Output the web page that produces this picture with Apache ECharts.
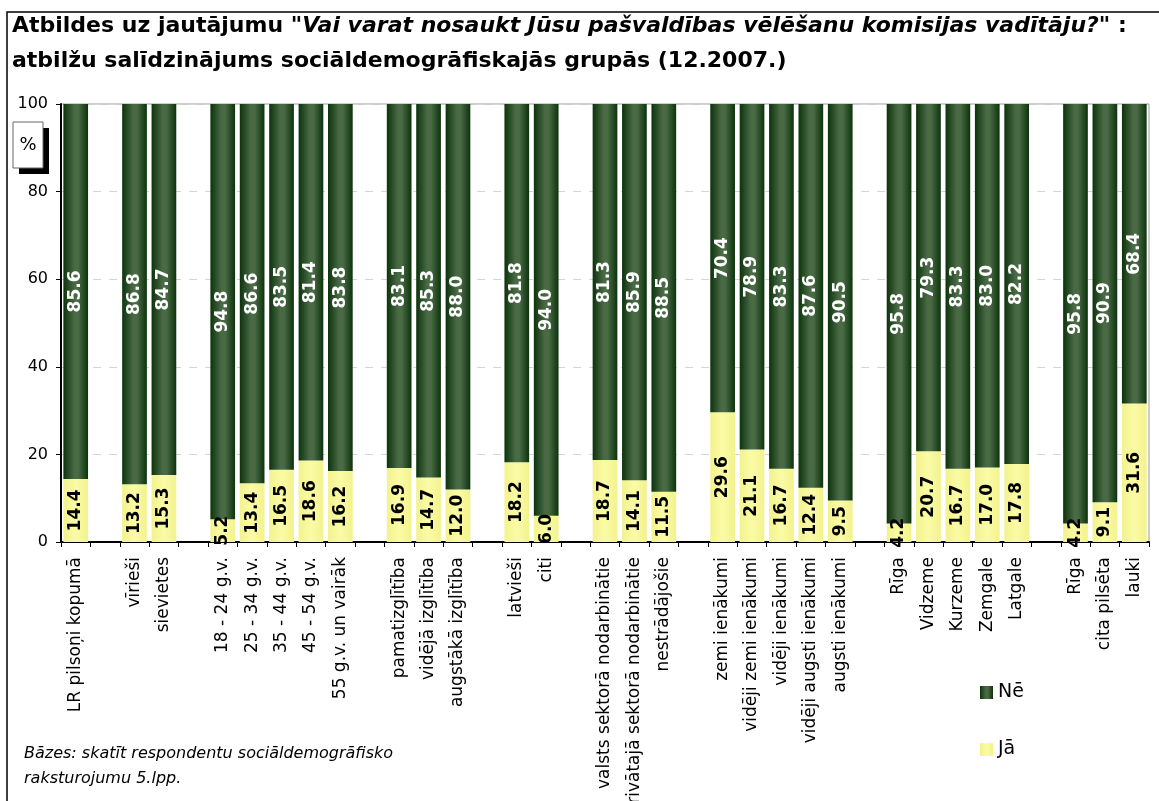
<!DOCTYPE html>
<html>
<head>
<meta charset="utf-8">
<script src="https://cdn.jsdelivr.net/npm/echarts@6/dist/echarts.min.js"></script>
<style>
  html, body { margin: 0; padding: 0; background: #fff; }
  #chart { width: 1159px; height: 801px; }
</style>
</head>
<body>
<div id="chart"></div>
<script>
// empty strings are the spacer columns between groups
const categories = [
  'LR pilsoņi kopumā', '',
  'vīrieši', 'sievietes', '',
  '18 - 24 g.v.', '25 - 34 g.v.', '35 - 44 g.v.', '45 - 54 g.v.', '55 g.v. un vairāk', '',
  'pamatizglītība', 'vidējā izglītība', 'augstākā izglītība', '',
  'latvieši', 'citi', '',
  'valsts sektorā nodarbinātie', 'privātajā sektorā nodarbinātie', 'nestrādājošie', '',
  'zemi ienākumi', 'vidēji zemi ienākumi', 'vidēji ienākumi', 'vidēji augsti ienākumi', 'augsti ienākumi', '',
  'Rīga', 'Vidzeme', 'Kurzeme', 'Zemgale', 'Latgale', '',
  'Rīga', 'cita pilsēta', 'lauki'
]
const jaValues = [
  14.4, null,
  13.2, 15.3, null,
  5.2, 13.4, 16.5, 18.6, 16.2, null,
  16.9, 14.7, 12.0, null,
  18.2, 6.0, null,
  18.7, 14.1, 11.5, null,
  29.6, 21.1, 16.7, 12.4, 9.5, null,
  4.2, 20.7, 16.7, 17.0, 17.8, null,
  4.2, 9.1, 31.6
]
const neValues = [
  85.6, null,
  86.8, 84.7, null,
  94.8, 86.6, 83.5, 81.4, 83.8, null,
  83.1, 85.3, 88.0, null,
  81.8, 94.0, null,
  81.3, 85.9, 88.5, null,
  70.4, 78.9, 83.3, 87.6, 90.5, null,
  95.8, 79.3, 83.3, 83.0, 82.2, null,
  95.8, 90.9, 68.4
]
const yTicks = [0, 20, 40, 60, 80, 100]

const FONT = 'DejaVu Sans'
const chart = echarts.init(document.getElementById('chart'))

const greenFill = new echarts.graphic.LinearGradient(0, 0, 1, 0, [
  { offset: 0, color: '#0c330c' },
  { offset: 0.45, color: '#496a45' },
  { offset: 0.6, color: '#496a45' },
  { offset: 1, color: '#0c330c' }
])
const yellowFill = new echarts.graphic.LinearGradient(0, 0, 1, 0, [
  { offset: 0, color: '#f2f28e' },
  { offset: 0.5, color: '#fbfba6' },
  { offset: 1, color: '#f2f28e' }
])

const fmt = p => (p.value == null ? '' : p.value.toFixed(1))

chart.setOption({
  animation: false,
  textStyle: { fontFamily: FONT },
  title: {
    left: 12,
    top: 9,
    padding: 0,
    text: '{b|Atbildes uz jautājumu }{i|"Vai varat nosaukt Jūsu pašvaldības vēlēšanu komisijas vadītāju?"}{b| :}\n{b|atbilžu salīdzinājums sociāldemogrāfiskajās grupās (12.2007.)}',
    textStyle: {
      rich: {
        b: { fontSize: 22, fontWeight: 'bold', color: '#000', lineHeight: 35, fontFamily: FONT },
        i: { fontSize: 22, fontWeight: 'bold', fontStyle: 'italic', color: '#000', lineHeight: 35, fontFamily: FONT }
      }
    }
  },
  legend: {
    orient: 'vertical',
    left: 980,
    top: 683,
    padding: 0,
    icon: 'rect',
    itemWidth: 13,
    itemHeight: 13,
    itemGap: 38,
    data: ['Nē', 'Jā'],
    textStyle: { fontSize: 19, color: '#000', fontFamily: FONT }
  },
  grid: {
    left: 61, right: 10, top: 104, bottom: 259,
    outerBoundsMode: 'none', containLabel: false,
    show: true, borderColor: '#999', borderWidth: 1
  },
  xAxis: {
    type: 'category',
    data: categories,
    axisLine: { lineStyle: { color: '#000', width: 2 } },
    axisTick: { show: true, length: 5, lineStyle: { color: '#000' } },
    axisLabel: { rotate: 90, interval: 0, fontSize: 17, color: '#000', margin: 15, fontFamily: FONT }
  },
  yAxis: {
    type: 'value',
    min: yTicks[0],
    max: yTicks[yTicks.length - 1],
    interval: 20,
    axisLine: { show: true, lineStyle: { color: '#000', width: 2 } },
    axisTick: { show: true, length: 5, lineStyle: { color: '#000' } },
    axisLabel: { fontSize: 16, color: '#000', margin: 13, fontFamily: FONT },
    splitLine: { lineStyle: { color: '#d4d4d4', type: [8, 8] } }
  },
  series: [
    {
      name: 'Jā',
      type: 'bar',
      stack: 'total',
      barWidth: '84%',
      data: jaValues,
      itemStyle: { color: yellowFill },
      label: {
        show: true, position: 'inside', rotate: 90, formatter: fmt,
        fontSize: 17, fontWeight: 'bold', color: '#000', fontFamily: FONT
      }
    },
    {
      name: 'Nē',
      type: 'bar',
      stack: 'total',
      barWidth: '84%',
      data: neValues,
      itemStyle: { color: greenFill },
      label: {
        show: true, position: 'inside', rotate: 90, formatter: fmt,
        fontSize: 17, fontWeight: 'bold', color: '#fff', fontFamily: FONT
      }
    }
  ],
  graphic: [
    { type: 'rect', shape: { x: 7, y: 12, width: 1170, height: 800 }, style: { fill: 'none', stroke: '#000', lineWidth: 1.5 }, silent: true },
    { type: 'rect', shape: { x: 19, y: 128, width: 30, height: 46 }, style: { fill: '#000' } },
    { type: 'rect', shape: { x: 13, y: 122, width: 30, height: 46 }, style: { fill: '#fff', stroke: '#666', lineWidth: 1 } },
    { type: 'text', x: 28, y: 145, style: { text: '%', fontSize: 18, fill: '#000', align: 'center', verticalAlign: 'middle', fontFamily: FONT } },
    {
      type: 'text', left: 24, top: 741,
      style: {
        text: 'Bāzes: skatīt respondentu sociāldemogrāfisko\nraksturojumu 5.lpp.',
        fontSize: 16, fontStyle: 'italic', lineHeight: 25, fill: '#000', fontFamily: FONT
      }
    }
  ]
})
</script>
</body>
</html>
